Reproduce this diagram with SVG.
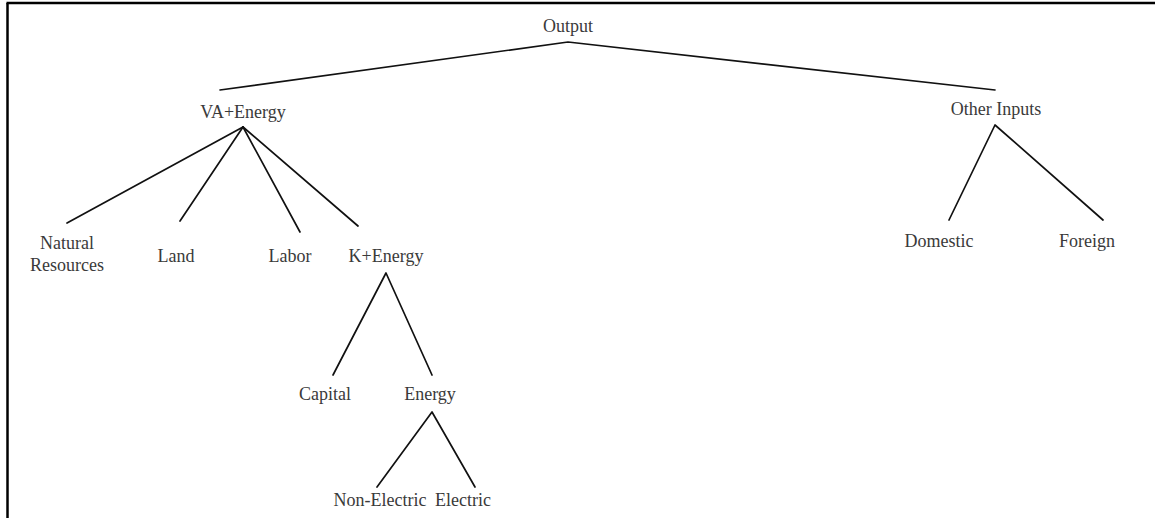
<svg xmlns="http://www.w3.org/2000/svg" width="1155" height="518" viewBox="0 0 1155 518">
<style>
.t{font-family:"Liberation Serif","Times New Roman",serif;font-size:18px;fill:#3a3a3a;text-anchor:middle}
.c{stroke:#111;stroke-width:1.7;fill:none;stroke-linecap:round;stroke-linejoin:round}
.b{stroke:#000;stroke-width:2.5;fill:none}
</style>
<rect width="1155" height="518" fill="#fff"/>
<g id="frame">
<line class="b" x1="6.5" y1="3" x2="1155" y2="3"/>
<line class="b" x1="7.5" y1="3" x2="7.5" y2="518"/>
</g>
<g id="connectors">
<polyline class="c" points="220,90 568,42 995,90"/>
<line class="c" x1="243" y1="127" x2="67" y2="223"/>
<line class="c" x1="243" y1="127" x2="180" y2="221"/>
<line class="c" x1="243" y1="127" x2="300" y2="232"/>
<line class="c" x1="243" y1="127" x2="358" y2="226"/>
<polyline class="c" points="333,375 386,273 432,375"/>
<polyline class="c" points="377,487 432,412 475,487"/>
<polyline class="c" points="949,220 995,125 1103,220"/>
</g>
<g id="n-output"><text class="t" x="568" y="32">Output</text></g>
<g id="n-vaenergy"><text class="t" x="243" y="118">VA+Energy</text></g>
<g id="n-otherinputs"><text class="t" x="996" y="115">Other Inputs</text></g>
<g id="n-natural"><text class="t" x="67" y="249">Natural</text><text class="t" x="67" y="271">Resources</text></g>
<g id="n-land"><text class="t" x="176" y="262">Land</text></g>
<g id="n-labor"><text class="t" x="290" y="262">Labor</text></g>
<g id="n-kenergy"><text class="t" x="386" y="262">K+Energy</text></g>
<g id="n-capital"><text class="t" x="325" y="400">Capital</text></g>
<g id="n-energy"><text class="t" x="430" y="400">Energy</text></g>
<g id="n-nonelectric"><text class="t" x="380" y="506">Non-Electric</text></g>
<g id="n-electric"><text class="t" x="463" y="506">Electric</text></g>
<g id="n-domestic"><text class="t" x="939" y="247">Domestic</text></g>
<g id="n-foreign"><text class="t" x="1087" y="247">Foreign</text></g>
</svg>
